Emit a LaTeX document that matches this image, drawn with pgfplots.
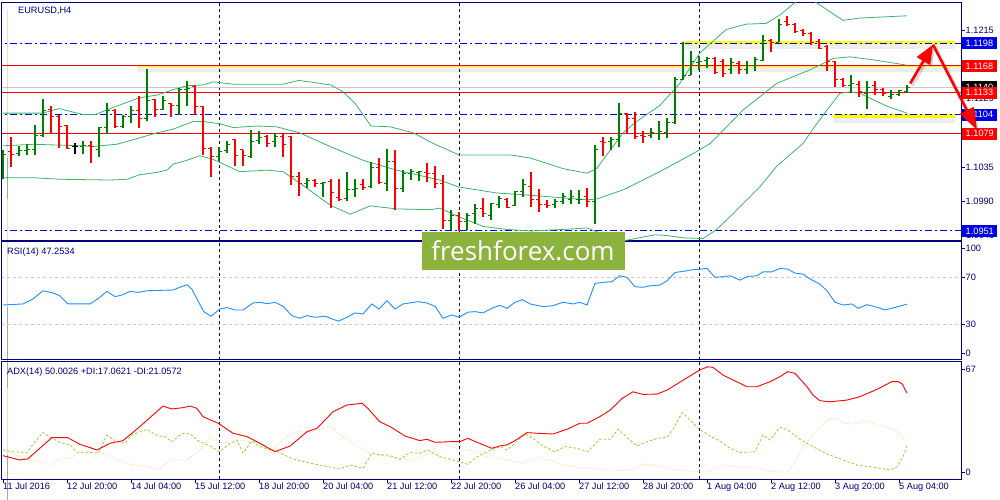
\documentclass[border=0pt]{standalone}
\usepackage{fontspec}
\setmainfont{Liberation Sans}
\newfontfamily\wmfont{Open Sans}
\usepackage{pgfplots}
\pgfplotsset{compat=1.18}
\usepackage{pgfplotstable}
\usetikzlibrary{arrows.meta}

\definecolor{mtnavy}{RGB}{0,0,128}
\definecolor{mtblue}{RGB}{0,0,230}
\definecolor{mtgreen}{RGB}{0,128,0}
\definecolor{mtred}{RGB}{255,0,0}
\definecolor{band}{RGB}{60,179,113}
\definecolor{rsiblue}{RGB}{30,144,255}
\definecolor{pdi}{RGB}{154,205,50}
\definecolor{mdi}{RGB}{250,215,160}
\definecolor{wm}{RGB}{141,179,63}
\definecolor{lvlyellow}{RGB}{255,255,0}
\definecolor{bidgray}{RGB}{200,200,200}

\newcommand\mtfont{\fontsize{9.2}{11}\selectfont}

% EURUSD H4 bars, index 0 = 11 Jul 2016 12:00
\pgfplotstableread{
i   o      h      l      c
0   1.1049 1.1058 1.1019 1.1052
2   1.1053 1.1063 1.1050 1.1057
3   1.1057 1.1065 1.1051 1.1058
4   1.1058 1.1090 1.1051 1.1077
5   1.1076 1.1125 1.1075 1.1110
10  1.1062 1.1069 1.1052 1.1063
12  1.1058 1.1088 1.1048 1.1087
13  1.1087 1.1119 1.1078 1.1110
15  1.1088 1.1104 1.1087 1.1101
16  1.1101 1.1116 1.1093 1.1110
18  1.1099 1.1164 1.1095 1.1123
20  1.1111 1.1129 1.1110 1.1123
22  1.1116 1.1139 1.1104 1.1137
23  1.1137 1.1148 1.1115 1.1139
27  1.1049 1.1062 1.1043 1.1055
28  1.1057 1.1069 1.1053 1.1065
31  1.1049 1.1084 1.1047 1.1069
32  1.1070 1.1082 1.1066 1.1074
34  1.1069 1.1080 1.1062 1.1075
38  1.1013 1.1021 1.1007 1.1018
40  1.1013 1.1016 1.0996 1.1015
43  1.0994 1.1029 1.0990 1.1005
44  1.1005 1.1019 1.0996 1.1007
46  1.1009 1.1042 1.1007 1.1034
48  1.1013 1.1059 1.1003 1.1043
50  1.1007 1.1031 1.1002 1.1026
51  1.1026 1.1033 1.1018 1.1029
52  1.1028 1.1030 1.1017 1.1029
56  1.0965 1.0978 1.0952 1.0971
58  1.0963 1.0974 1.0952 1.0972
59  1.0974 1.0986 1.0960 1.0981
61  1.0972 1.0988 1.0965 1.0987
62  1.0986 1.0997 1.0981 1.0994
64  1.0985 1.1004 1.0984 1.1003
65  1.1003 1.1019 1.0996 1.1012
69  1.0986 1.0993 1.0981 1.0990
70  1.0990 1.1001 1.0986 1.0996
71  1.0993 1.1005 1.0986 1.0996
72  1.0992 1.1005 1.0987 1.0993
74  1.0990 1.1064 1.0960 1.1058
76  1.1069 1.1075 1.1058 1.1071
77  1.1071 1.1119 1.1062 1.1105
81  1.1077 1.1086 1.1073 1.1080
82  1.1079 1.1095 1.1071 1.1082
83  1.1080 1.1099 1.1073 1.1093
84  1.1093 1.1153 1.1092 1.1150
85  1.1150 1.1199 1.1150 1.1156
86  1.1156 1.1188 1.1156 1.1174
87  1.1172 1.1181 1.1163 1.1174
88  1.1175 1.1180 1.1165 1.1178
91  1.1164 1.1178 1.1158 1.1172
93  1.1163 1.1175 1.1158 1.1169
94  1.1169 1.1180 1.1161 1.1176
95  1.1175 1.1209 1.1174 1.1202
97  1.1199 1.1230 1.1199 1.1222
106 1.1142 1.1156 1.1133 1.1145
108 1.1132 1.1148 1.1112 1.1140
111 1.1128 1.1137 1.1124 1.1131
112 1.1131 1.1137 1.1128 1.1136
113 1.1134 1.1143 1.1133 1.1140
}\bull

\pgfplotstableread{
i   o      h      l      c
1   1.1055 1.1075 1.1035 1.1052
6   1.1111 1.1116 1.1080 1.1101
7   1.1102 1.1103 1.1060 1.1089
8   1.1090 1.1090 1.1059 1.1060
11  1.1063 1.1069 1.1040 1.1062
14  1.1110 1.1112 1.1086 1.1088
17  1.1110 1.1128 1.1086 1.1099
19  1.1124 1.1125 1.1101 1.1111
21  1.1118 1.1119 1.1101 1.1116
24  1.1141 1.1143 1.1104 1.1115
25  1.1115 1.1116 1.1051 1.1060
26  1.1060 1.1061 1.1022 1.1049
29  1.1071 1.1072 1.1036 1.1050
30  1.1058 1.1058 1.1036 1.1050
33  1.1075 1.1077 1.1062 1.1066
35  1.1075 1.1078 1.1048 1.1065
36  1.1075 1.1076 1.1012 1.1023
37  1.1023 1.1029 1.0997 1.1013
39  1.1018 1.1020 1.1009 1.1013
41  1.1016 1.1019 1.0981 1.1001
42  1.0995 1.1020 1.0990 1.0993
45  1.1012 1.1019 1.1005 1.1008
47  1.1034 1.1047 1.1013 1.1015
49  1.1043 1.1057 1.0978 1.1007
53  1.1028 1.1040 1.1015 1.1027
54  1.1027 1.1037 1.1008 1.1014
55  1.1014 1.1025 1.0953 1.0965
57  1.0972 1.0976 1.0951 1.0963
60  1.0981 1.0995 1.0970 1.0974
63  1.0993 1.0994 1.0981 1.0982
66  1.1010 1.1029 1.0983 1.0993
67  1.0993 1.1006 1.0976 1.0986
68  1.0986 1.0992 1.0981 1.0985
73  1.0996 1.1007 1.0982 1.0990
75  1.1069 1.1074 1.1050 1.1067
78  1.1105 1.1106 1.1080 1.1099
79  1.1099 1.1107 1.1072 1.1075
80  1.1077 1.1082 1.1067 1.1075
89  1.1178 1.1180 1.1158 1.1159
90  1.1174 1.1177 1.1153 1.1158
92  1.1171 1.1174 1.1158 1.1163
96  1.1201 1.1204 1.1186 1.1199
98  1.1226 1.1234 1.1220 1.1222
99  1.1223 1.1225 1.1212 1.1213
100 1.1215 1.1216 1.1207 1.1211
101 1.1211 1.1213 1.1196 1.1199
102 1.1200 1.1203 1.1190 1.1191
103 1.1194 1.1196 1.1161 1.1174
104 1.1174 1.1175 1.1140 1.1150
105 1.1150 1.1152 1.1140 1.1142
107 1.1144 1.1148 1.1127 1.1134
109 1.1142 1.1148 1.1130 1.1137
110 1.1137 1.1139 1.1128 1.1132
}\bear

\pgfplotstableread{
i   o      h      l      c
9   1.1062 1.1067 1.1052 1.1062
}\doji

% one OHLC series: high-low stem, open tick left, close tick right
\newcommand\ohlc[2]{%
  \addplot[draw=none, mark=none, forget plot,
    error bars/.cd, y dir=plus, y explicit, error mark=none,
    error bar style={draw=#2, line width=1.1pt}]
    table[x=i, y=l, y error expr=\thisrow{h}-\thisrow{l}] {#1};
  \addplot[draw=none, mark=none, forget plot,
    error bars/.cd, x dir=minus, x fixed=0.4, error mark=none,
    error bar style={draw=#2, line width=1pt}]
    table[x=i, y=o] {#1};
  \addplot[draw=none, mark=none, forget plot,
    error bars/.cd, x dir=plus, x fixed=0.4, error mark=none,
    error bar style={draw=#2, line width=1pt}]
    table[x=i, y=c] {#1};
}

\pgfplotsset{
  mtpanel/.style={
    scale only axis, width=959pt, xmin=-0.125, xmax=119.75,
    anchor=north west,
    axis line style={mtnavy, line width=1pt},
    tick style={mtnavy, line width=0.8pt},
    tick align=outside, major tick length=3.5pt,
    xtick=\empty,
    ytick pos=right, yticklabel pos=right,
    yticklabel style={font=\mtfont, text=mtnavy, anchor=west, inner sep=0pt, xshift=1pt},
    extra x ticks={27,57,87}, extra x tick labels={},
    extra x tick style={grid=major, major tick length=0pt},
    major grid style={mtnavy, line width=0.8pt, dash pattern=on 3pt off 3pt},
    clip mode=individual,
  },
}
\tikzset{
  lbl/.style={anchor=west, inner xsep=3.5pt, inner ysep=0pt, minimum height=12pt,
    font=\mtfont, text=white, xshift=1pt},
  shadow/.style={black, opacity=0.07, yshift=-2.5pt},
}

\begin{document}
\begin{tikzpicture}
\useasboundingbox (0,0) rectangle (1000pt,500pt);
\fill[white] (0,0) rectangle (1000pt,500pt);

% ---------------- price window ----------------
\begin{axis}[mtpanel, at={(2pt,498pt)}, height=238pt,
  ymin=1.0939, ymax=1.1252,
  ytick={1.0990,1.1035,1.1215}, yticklabels={1.0990,1.1035,1.1215}]

% highlighted levels (shadow + yellow)
\addplot[shadow, line width=7pt] coordinates {(16.75,1.1168) (119.75,1.1168)};
\addplot[shadow, line width=8pt] coordinates {(85,1.1199) (119,1.1199)};
\addplot[shadow, line width=8pt] coordinates {(103.75,1.1102) (119,1.1102)};
\addplot[lvlyellow, line width=2.2pt] coordinates {(16.75,1.1168) (119.75,1.1168)};
\addplot[lvlyellow, line width=3.6pt] coordinates {(85,1.1199) (119,1.1199)};
\addplot[lvlyellow, line width=3.6pt] coordinates {(103.75,1.1102) (119,1.1102)};

% horizontal levels
\addplot[bidgray, line width=0.8pt] coordinates {(-1,1.1140) (120,1.1140)};
\addplot[mtred, line width=1pt] coordinates {(-1,1.1168) (120,1.1168)};
\addplot[mtred, line width=1pt] coordinates {(-1,1.1133) (120,1.1133)};
\addplot[mtred, line width=1pt] coordinates {(-1,1.1079) (120,1.1079)};
\addplot[mtblue, line width=1pt, dash pattern=on 7pt off 3pt on 2pt off 3pt] coordinates {(-1,1.1198) (120,1.1198)};
\addplot[mtblue, line width=1pt, dash pattern=on 7pt off 3pt on 2pt off 3pt] coordinates {(-1,1.1104) (120,1.1104)};
\addplot[mtblue, line width=1pt, dash pattern=on 7pt off 3pt on 2pt off 3pt] coordinates {(-1,1.0951) (120,1.0951)};

% Bollinger bands (20)
\addplot[band, line width=0.8pt] coordinates {
(0,1.1106) (5,1.1106) (7,1.1112) (10,1.1104) (11.5,1.1104) (13.4,1.1112) (17,1.1126)
(19.4,1.1130) (21.3,1.1137) (23,1.1142) (25,1.1143) (26.3,1.1147) (28.8,1.1144) (35,1.1144)
(37,1.1149) (41,1.1143) (42.5,1.1134) (44,1.1119) (46,1.1089) (48.4,1.1088) (51.3,1.1080)
(53.8,1.1066) (57,1.1051) (63.4,1.1051) (65.9,1.1047) (70,1.1033) (73,1.1027) (74.2,1.1033)
(77.5,1.1080) (79.2,1.1095) (82.1,1.1116) (84.6,1.1145) (87.1,1.1185) (90.4,1.1216)
(92.9,1.1223) (95.4,1.1224) (97.1,1.1235) (99.2,1.1253) (100.5,1.1258) (101.7,1.1251)
(105,1.1228) (107.1,1.1231) (113,1.1234)};
\addplot[band, line width=0.8pt] coordinates {
(0,1.1063) (3.8,1.1065) (10,1.1063) (11.1,1.1062) (14.2,1.1065) (16.3,1.1071) (19.2,1.1080)
(21.3,1.1085) (23.8,1.1095) (25,1.1095) (27.1,1.1092) (28.8,1.1087) (31.7,1.1089) (34.2,1.1088)
(37.1,1.1080) (40.9,1.1062) (45,1.1044) (49.2,1.1031) (54.6,1.1018) (56.9,1.1009) (61.7,1.1001)
(65.9,1.0998) (73,1.0992) (74.2,1.0993) (77.5,1.1005) (82.1,1.1029) (86.3,1.1053) (88.4,1.1066)
(92.5,1.1110) (96.7,1.1145) (100.9,1.1163) (103.8,1.1178) (105.9,1.1180) (108.8,1.1176) (113,1.1169)};
\addplot[band, line width=0.8pt] coordinates {
(0,1.1021) (3.8,1.1021) (7.1,1.1019) (13.4,1.1018) (15.5,1.1019) (17.1,1.1025) (19.2,1.1028)
(20.5,1.1031) (21.3,1.1039) (23,1.1044) (24.6,1.1050) (26.3,1.1045) (29.6,1.1029) (33,1.1031)
(35,1.1029) (37.1,1.1014) (40.9,1.0985) (43.4,1.0973) (45.9,1.0984) (49.2,1.0980) (53.4,1.0979)
(54.6,1.0981) (56.9,1.0970) (60,1.0957) (63,1.0953) (65.9,1.0951) (70,1.0953) (73,1.0955)
(74.2,1.0950) (77.5,1.0938) (81.5,1.0946) (83,1.0945) (85,1.0942) (87.5,1.0941) (89.2,1.0953)
(90.5,1.0966) (94.6,1.1009) (96.7,1.1036) (100,1.1066) (101.3,1.1086) (103,1.1110) (104.6,1.1132)
(105.9,1.1134) (107.1,1.1132) (110.5,1.1115) (113,1.1106)};

% bars
\ohlc{\bull}{mtgreen}
\ohlc{\bear}{mtred}
\ohlc{\doji}{black}

% window caption
\fill[black] ([xshift=5pt,yshift=-7.3pt]rel axis cs:0,1) -- ++(6pt,0) -- ++(-3pt,-3.4pt) -- cycle;
\node[anchor=west, inner sep=0pt, font=\mtfont, text=mtnavy] at ([xshift=16pt,yshift=-8.5pt]rel axis cs:0,1) {EURUSD,H4};

% price scale labels of the levels
\node[anchor=west, inner sep=0pt, font=\mtfont, text=mtnavy, xshift=5pt] at (axis cs:119.75,1.1125) {1.1125};
\node[anchor=west, inner sep=0pt, font=\mtfont, text=mtnavy, xshift=5pt] at (axis cs:119.75,1.0945) {1.0945};
\node[lbl, fill=black] at (axis cs:119.75,1.1140) {1.1140};
\node[lbl, fill=mtblue] at (axis cs:119.75,1.1198) {1.1198};
\node[lbl, fill=mtred] at (axis cs:119.75,1.1168) {1.1168};
\node[lbl, fill=mtred] at (axis cs:119.75,1.1133) {1.1133};
\node[lbl, fill=mtblue] at (axis cs:119.75,1.1104) {1.1104};
\node[lbl, fill=mtred] at (axis cs:119.75,1.1079) {1.1079};
\node[lbl, fill=mtblue] at (axis cs:119.75,1.0951) {1.0951};

% forecast arrows
\draw[black, opacity=0.15, line width=3pt, xshift=2pt, yshift=-2pt, -{Triangle[length=19pt,width=15pt]}]
  (axis cs:113.4,1.1145) -- (axis cs:116.25,1.1196);
\draw[black, opacity=0.15, line width=3pt, xshift=2pt, yshift=-2pt, -{Triangle[length=22pt,width=15pt]}]
  (axis cs:116.25,1.1196) -- (axis cs:121.75,1.1084);
\draw[mtred, line width=2.6pt, -{Triangle[length=19pt,width=15pt]}]
  (axis cs:113.4,1.1145) -- (axis cs:116.25,1.1196);
\draw[mtred, line width=2.6pt, -{Triangle[length=22pt,width=15pt]}]
  (axis cs:116.25,1.1196) -- (axis cs:121.75,1.1084);
\end{axis}

% ---------------- RSI window ----------------
\begin{axis}[mtpanel, at={(2pt,258pt)}, height=118pt,
  ymin=0, ymax=100,
  ytick={6,30,70,94.7}, yticklabels={0,30,70,100}]
\addplot[bidgray, line width=0.8pt, dash pattern=on 3pt off 3pt] coordinates {(-1,70) (120,70)};
\addplot[bidgray, line width=0.8pt, dash pattern=on 3pt off 3pt] coordinates {(-1,30) (120,30)};
\addplot[rsiblue, line width=0.9pt] coordinates {
(0,46.6) (2.5,47.5) (3.75,51.7) (5,58.7) (6.25,56.8) (7.1,54.5) (8.1,47.5) (10.9,47.5)
(12.1,53.1) (13,58.2) (14,53.7) (14.9,55.1) (15.9,58.2) (16.9,57.3) (18,58.7) (21.25,59.3)
(22.1,61.6) (23,63.8) (23.6,60.1) (24.25,51.7) (25.1,41.0) (26,37.1) (27.1,43.2) (28,44.4)
(29,42.4) (30,42.4) (31.25,48.3) (32.1,48.9) (33,47.7) (34,48.9) (35,45.5) (36.1,37.6)
(37.1,35.4) (38,37.6) (39,36.2) (40.25,37.1) (41.9,32.9) (43,36.2) (44,39.9) (45,39.0)
(46.1,47.5) (47,43.2) (48,50.3) (49,43.2) (50,47.5) (51.9,49.4) (53,48.3) (54,45.5)
(55,35.4) (56.1,38.2) (57,36.2) (58.1,40.5) (59,41.0) (60,39.9) (61.1,43.8) (62.1,46.3)
(63,43.8) (64,48.9) (64.9,51.1) (65.9,47.5) (67.5,45.2) (68.75,46.0) (70,48.9) (71.25,47.5)
(72.1,48.9) (73,46.6) (74,64.9) (75,65.8) (76.1,66.3) (77.1,71.4) (78,70.0) (79,62.1)
(80,61.6) (80.9,62.9) (82.1,63.5) (83,67.1) (84,74.2) (85,75.1) (86.1,76.4) (87.1,77.0)
(88,77.6) (89,70.0) (90,70.6) (90.9,71.4) (92.1,67.7) (93.1,70.8) (94.25,71.4) (95,74.7)
(96.1,74.7) (97.1,77.6) (98.1,77.0) (99,73.6) (100,72.8) (100.9,68.6) (102.1,64.3) (103,58.7)
(104,48.9) (105,46.6) (106.1,47.5) (106.9,43.8) (108,46.9) (109.25,44.7) (110.25,42.4)
(111.25,44.1) (113,47.3)};
\node[anchor=west, inner sep=0pt, font=\mtfont, text=mtnavy] at ([xshift=5pt,yshift=-10pt]rel axis cs:0,1) {RSI(14) 47.2534};
\end{axis}

% ---------------- ADX window ----------------
\begin{axis}[mtpanel, at={(2pt,138pt)}, height=117pt,
  ymin=-4.4, ymax=71.8,
  ytick={0,67}, yticklabels={0,67},
  xtick={0,8,...,112}, xtick pos=bottom,
  xticklabels={11 Jul 2016, 12 Jul 20:00, 14 Jul 04:00, 15 Jul 12:00, 18 Jul 20:00,
    20 Jul 04:00, 21 Jul 12:00, 22 Jul 20:00, 26 Jul 04:00, 27 Jul 12:00, 28 Jul 20:00,
    1 Aug 04:00, 2 Aug 12:00, 3 Aug 20:00, 5 Aug 04:00},
  xticklabel style={font=\mtfont, text=mtnavy, anchor=north west, inner sep=0pt, xshift=0pt}]
% -DI
\addplot[mdi, line width=0.8pt, dash pattern=on 1pt off 1.5pt] coordinates {
(0,15.6) (1.25,11.9) (3,8.0) (4.6,6.9) (5.9,4.7) (7.1,9.1) (8.4,9.1) (9.6,12.8) (11.25,13.4)
(12.5,12.4) (13.75,9.1) (15.9,5.2) (18,3.6) (19.6,2.0) (20.9,8.0) (23,8.0) (24.6,14.5)
(25.9,23.2) (27.1,19.9) (28.75,18.9) (30,20.6) (31.75,18.9) (33.4,13.4) (35,21.5) (36.75,27.1)
(38,25.4) (39.25,27.5) (40.9,29.7) (42.5,23.2) (44.25,17.1) (45.9,11.9) (47.5,10.6) (49.25,9.5)
(50.9,8.0) (52.1,9.1) (53.4,12.4) (54.6,18.9) (55.9,17.1) (57.1,14.5) (58.75,14.1) (60.5,10.1)
(62.1,9.1) (63.4,7.5) (64.9,5.9) (66.9,9.8) (69,6.5) (70.5,4.3) (72.1,3.0) (74.6,2.1)
(77.1,1.0) (78.75,2.0) (80,5.4) (81.25,4.7) (83,2.6) (84.6,1.5) (86.75,0.4) (88,0.0)
(89.25,3.3) (90.5,4.7) (92.1,3.3) (93.75,3.3) (96.25,0.4) (98,0.0) (98.75,4.7) (100,16.7)
(101.75,27.5) (103.4,35.1) (104.25,35.1) (105,31.9) (106.25,31.4) (108,33.6) (109.25,30.8)
(110.6,29.3) (111.9,26.4) (112.75,21.1)};
% +DI
\addplot[pdi, line width=0.8pt, dash pattern=on 2.5pt off 2pt] coordinates {
(0,14.5) (1.25,13.4) (3,12.8) (4,19.9) (5,26.0) (5.9,22.8) (7.1,19.5) (8.4,17.8) (9.25,13.0)
(10.6,13.0) (11.9,12.4) (13,24.3) (14,20.4) (15.25,18.9) (16.1,24.3) (18,28.0) (19.25,23.8)
(20.25,23.2) (21.1,19.9) (22.4,25.4) (23.4,24.9) (24.4,20.4) (25.9,17.1) (27.1,13.4) (28.4,18.9)
(29.25,21.0) (30,12.4) (31.1,20.4) (32.1,16.7) (34.25,13.4) (36.25,8.7) (38.4,5.9) (40.9,3.3)
(42.1,2.1) (43.4,4.7) (45,2.6) (46.1,12.4) (47.1,11.3) (48.1,11.3) (49.6,8.5) (50.9,12.8)
(52.1,12.4) (53.1,14.5) (54.6,10.1) (56.25,8.0) (58.1,5.2) (59.25,10.1) (60.5,13.4) (62.1,16.7)
(63,14.5) (64,18.9) (65.25,24.9) (66.25,22.1) (67.5,17.1) (69,13.4) (70.25,16.7) (71.75,15.6)
(73.1,13.4) (74.6,21.5) (75.9,21.5) (76.9,28.0) (78.1,22.1) (79.25,17.1) (80.5,19.9) (81.9,22.1)
(83,22.8) (83.75,28.0) (84.9,38.8) (86.1,32.9) (86.9,28.6) (88.4,23.6) (89.6,20.4) (90.9,15.6)
(92.1,12.8) (94,13.4) (95,24.3) (95.9,21.0) (97.1,29.3) (98.1,27.5) (99.6,21.5) (101.25,16.7)
(103,11.9) (105,8.0) (106.75,4.7) (108.75,3.3) (110.9,1.5) (111.75,3.6) (112.5,10.1) (113,17.1)};
% ADX
\addplot[mtred, line width=0.9pt] coordinates {
(0,10.8) (2.1,8.0) (3.1,8.7) (6.1,22.5) (8.1,22.5) (9.6,18.2) (10.5,16.7) (11.75,14.5)
(13.4,18.9) (15,20.6) (17.1,29.7) (20,43.1) (21.1,41.2) (22.4,42.0) (23.4,43.1) (24.25,41.6)
(25,36.2) (26.9,31.9) (28.75,25.4) (30.5,23.2) (32.1,18.9) (34,13.4) (35.9,17.1) (38,26.4)
(39.25,28.6) (41.25,39.4) (43,43.8) (44.9,44.9) (45.6,41.6) (47.1,32.9) (48.4,29.7) (50.25,23.6)
(52.1,20.6) (53,21.5) (54,19.5) (55.9,19.9) (57.1,19.9) (58.1,22.1) (59.25,19.5) (61.1,15.6)
(62.1,17.1) (63,17.8) (64,20.6) (65.5,25.8) (66.75,25.4) (68.75,24.9) (70.5,28.0) (72.1,31.9)
(73,31.9) (74.6,36.2) (75.9,40.5) (77.4,48.1) (78.75,52.4) (80,50.7) (81.75,50.9) (83,53.5)
(84.25,57.5) (85.5,61.5) (87.1,66.6) (88.1,68.7) (88.75,68.3) (90,63.3) (91.25,60.1) (93,55.7)
(94.25,55.7) (95.9,59.0) (97.1,62.2) (98.1,65.5) (99,64.4) (100.5,55.7) (101.25,50.3)
(102.1,46.6) (103.4,45.9) (105.5,47.0) (107.1,49.2) (109.25,54.0) (111.1,59.0) (111.9,59.0)
(112.4,57.5) (113,51.5)};
\node[anchor=west, inner sep=0pt, font=\mtfont, text=mtnavy] at ([xshift=5pt,yshift=-10pt]rel axis cs:0,1) {ADX(14) 50.0026 +DI:17.0621 -DI:21.0572};
\end{axis}

% watermark
\fill[wm] (422pt,230pt) rectangle (625pt,268pt);
\node[text=white, inner sep=0pt, font=\wmfont\fontsize{26}{30}\selectfont] at (523pt,249pt) {freshforex.com};
\end{tikzpicture}
\end{document}
